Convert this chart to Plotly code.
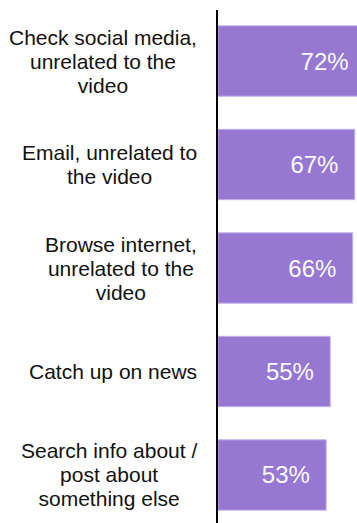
import plotly.graph_objects as go

categories = [
    "Check social media,<br>unrelated to the<br>video",
    "Email, unrelated to<br>the video",
    "Browse internet,<br>unrelated to the<br>video",
    "Catch up on news",
    "Search info about /<br>post about<br>something else",
]
values = [72, 67, 66, 55, 53]
value_labels = ["72%", "67%", "66%", "55%", "53%"]

FONT = "Liberation Sans, Arial, sans-serif"
BAR = "#9678D2"
EDGE = "#C2B2EA"

keys = [f"c{i}" for i in range(len(categories))]

fig = go.Figure(
    go.Bar(
        x=values,
        y=keys,
        orientation="h",
        width=0.68,
        marker=dict(color=BAR, line=dict(color=EDGE, width=1)),
        text=[t + "\u00a0\u00a0" for t in value_labels],
        textposition="inside",
        insidetextanchor="end",
        textangle=0,
        textfont=dict(family=FONT, size=24, color="#FAF8FF"),
        cliponaxis=True,
        hoverinfo="skip",
    )
)

for k, lab in zip(keys, categories):
    fig.add_annotation(
        xref="paper", yref="y",
        x=-0.137, y=k,
        xanchor="right", yanchor="middle",
        align="center",
        showarrow=False,
        text=f'<span style="font-size:21px">{lab}</span>',
        font=dict(family=FONT, size=18.46, color="#111111"),
    )

fig.update_layout(
    width=357, height=523,
    margin=dict(l=218, r=0, t=10, b=0),
    paper_bgcolor="white", plot_bgcolor="white",
    showlegend=False,
    bargap=0.3,
    xaxis=dict(range=[0, 68.1], visible=False, fixedrange=True),
    yaxis=dict(
        type="category",
        categoryorder="array", categoryarray=keys,
        range=[4.464, -0.493],
        showticklabels=False, ticks="",
        showgrid=False, zeroline=False,
        showline=True, linecolor="black", linewidth=2,
        fixedrange=True,
    ),
)

fig.write_html(
    "out.html",
    config={"displayModeBar": False},
    post_script="document.body.style.margin='0';document.body.style.overflow='hidden';",
)
